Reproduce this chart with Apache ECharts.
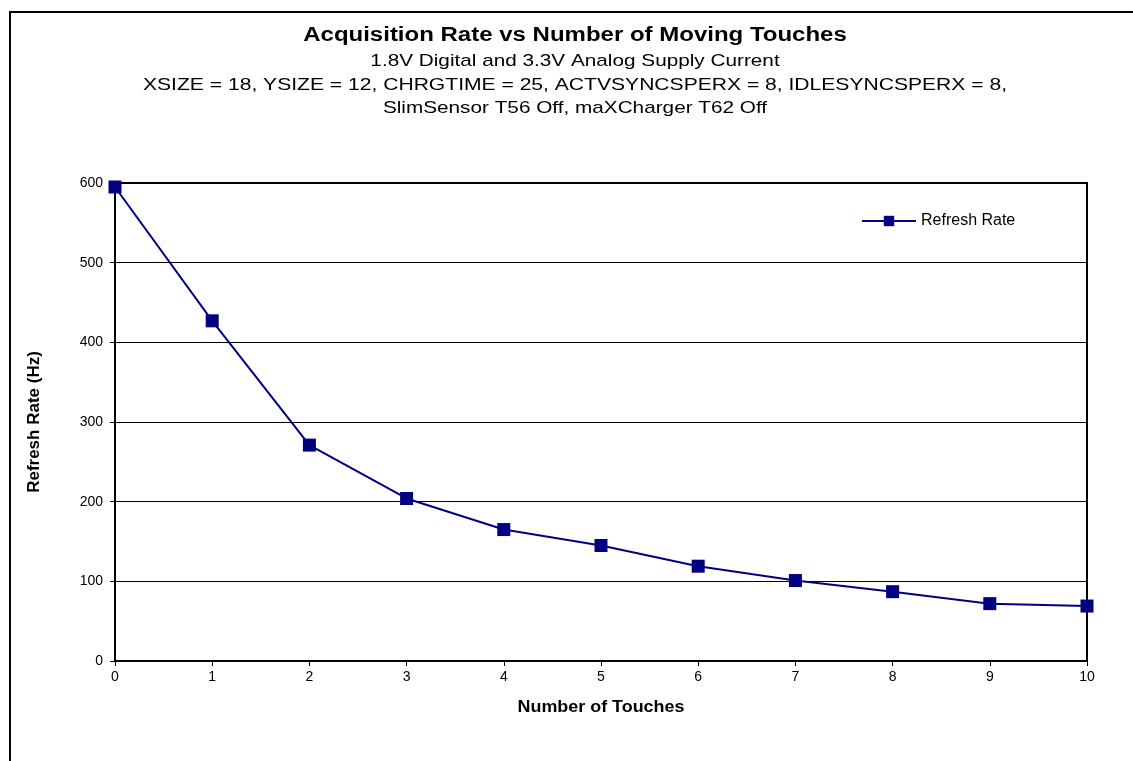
<!DOCTYPE html>
<html>
<head>
<meta charset="utf-8">
<script src="https://cdn.jsdelivr.net/npm/echarts@6/dist/echarts.min.js"></script>
<style>
html,body{margin:0;padding:0;background:#fff;}
#chart{width:1133px;height:761px;}
</style>
</head>
<body>
<div id="chart"></div>
<script>
const titleText = "Acquisition Rate vs Number of Moving Touches";
const subtitleLines = [
  "1.8V Digital and 3.3V Analog Supply Current",
  "XSIZE = 18, YSIZE = 12, CHRGTIME = 25, ACTVSYNCSPERX = 8, IDLESYNCSPERX = 8,",
  "SlimSensor T56 Off, maXCharger T62 Off"
];
const touches = [0, 1, 2, 3, 4, 5, 6, 7, 8, 9, 10];
const refreshRate = [595, 427, 271, 204, 165, 145, 119, 101, 87, 72, 69];
const seriesName = "Refresh Rate";
const xAxisName = "Number of Touches";
const yAxisName = "Refresh Rate (Hz)";

const chart = echarts.init(document.getElementById('chart'));
const font = "'Liberation Sans', Arial, sans-serif";
function stretchedText(text, x, y, size, bold, sx) {
  return { type: 'text', x: x, y: y, scaleX: sx, scaleY: 1,
    style: { text: text, font: (bold ? 'bold ' : '') + size + 'px ' + font, fill: '#000',
      x: 0, y: 0, align: 'center', verticalAlign: 'middle' } };
}
chart.setOption({
  animation: false,
  backgroundColor: '#fff',
  textStyle: { fontFamily: font },
  graphic: [
    { type: 'polyline', shape: { points: [[10, 800], [10, 12], [1140, 12]] },
      style: { stroke: '#000', lineWidth: 2, fill: null } },
    stretchedText(titleText, 575, 35, 20, true, 1.2),
    stretchedText(subtitleLines[0], 575, 61, 17, false, 1.22),
    stretchedText(subtitleLines[1], 575, 85, 17, false, 1.24),
    stretchedText(subtitleLines[2], 575, 108, 17, false, 1.22),
    stretchedText(xAxisName, 601, 708, 16, true, 1.12)
  ],
  legend: {
    data: [seriesName],
    left: 856, top: 208,
    itemWidth: 54, itemHeight: 13, itemGap: 3,
    textStyle: { fontSize: 16, color: '#000', fontFamily: font }
  },
  grid: { left: 115, right: 46, top: 183, bottom: 100, show: true, borderColor: '#000', borderWidth: 2, containLabel: false },
  xAxis: {
    type: 'value', min: 0, max: 10, interval: 1,
    axisLine: { onZero: false, lineStyle: { color: '#000', width: 2 } },
    axisTick: { show: true, length: 5, lineStyle: { color: '#000' } },
    axisLabel: { fontSize: 14, color: '#000', margin: 9 },
    splitLine: { show: false }
  },
  yAxis: {
    type: 'value', min: 0, max: 600, interval: 100,
    name: yAxisName, nameLocation: 'middle', nameGap: 72, nameRotate: 90,
    nameTextStyle: { fontWeight: 'bold', fontSize: 17, color: '#000' },
    axisLine: { lineStyle: { color: '#000', width: 2 } },
    axisTick: { show: true, length: 5, lineStyle: { color: '#000' } },
    axisLabel: { fontSize: 14, color: '#000', margin: 12 },
    splitLine: { show: true, lineStyle: { color: '#000', width: 1 } }
  },
  series: [{
    name: seriesName,
    type: 'line',
    data: touches.map((t, i) => [t, refreshRate[i]]),
    symbol: 'rect', symbolSize: 13,
    itemStyle: { color: '#000080' },
    lineStyle: { color: '#000080', width: 2 },
    clip: false
  }]
});
</script>
</body>
</html>
